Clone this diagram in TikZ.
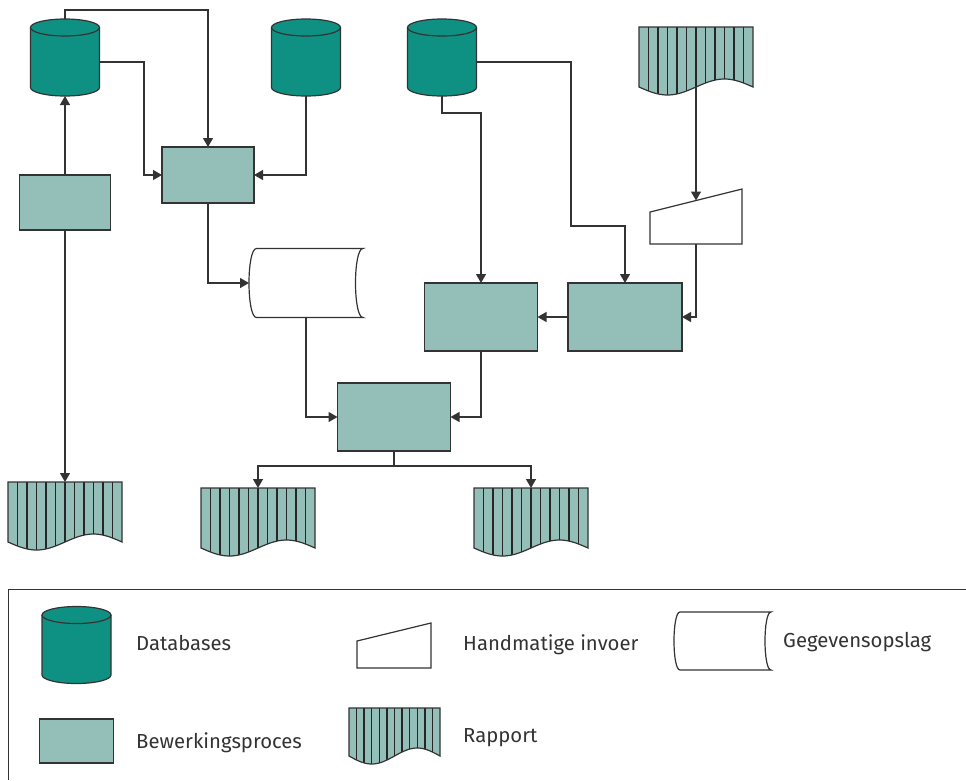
\documentclass[tikz,border=0pt]{standalone}
\usepackage{fontspec}
\setmainfont{Fira Sans}
\usetikzlibrary{arrows.meta,calc}
\definecolor{dbfill}{HTML}{0E9182}
\definecolor{procfill}{HTML}{93BFB8}
\definecolor{edgecol}{HTML}{333333}
\definecolor{txtcol}{HTML}{333333}
\tikzset{
  hbox/.style={rectangle, draw=none, inner sep=0pt, outer sep=0pt},
  outl/.style={draw=edgecol, line width=1.2pt, line join=miter},
  proc/.style={rectangle, draw=edgecol, fill=procfill, line width=1.2pt, inner sep=0pt, outer sep=0pt},
  conn/.style={draw=edgecol, line width=1.3pt, -{Triangle[length=9pt,width=10pt]}},
  stripe/.style={draw=black!85, line width=1.4pt},
  frame/.style={draw=edgecol, line width=1pt},
  legtext/.style={anchor=base west, inner sep=0pt, text=txtcol, font=\fontsize{20.3}{24}\selectfont},
}
% database cylinder: name, cx, cy
\newcommand\dbdraw[3]{%
  \node[hbox, minimum width=69pt, minimum height=77pt] (#1) at (#2,#3) {};
  \filldraw[outl, fill=dbfill] ([yshift=-8.5pt]#1.north west) -- ([yshift=8.5pt]#1.south west)
    arc[start angle=180, end angle=360, x radius=34.5pt, y radius=8.5pt]
    -- ([yshift=-8.5pt]#1.north east)
    arc[start angle=0, end angle=180, x radius=34.5pt, y radius=8.5pt] -- cycle;
  \draw[outl] ([yshift=-8.5pt]#1.north west) arc[start angle=180, end angle=360, x radius=34.5pt, y radius=8.5pt];
}
% manual input: name, cx, cy, w, h, slant
\newcommand\midraw[6]{%
  \node[hbox, minimum width=#4pt, minimum height=#5pt] (#1) at (#2,#3) {};
  \filldraw[outl, fill=white] (#1.south west) -- ([yshift=-#6pt]#1.north west) -- (#1.north east) -- (#1.south east) -- cycle;
}
% stored data: name, cx, cy, w, h, d, 4d/3, d/3
\newcommand\stdraw[8]{%
  \node[hbox, minimum width=#4pt, minimum height=#5pt] (#1) at (#2,#3) {};
  \filldraw[outl, fill=white] ([xshift=#6pt]#1.north west) -- (#1.north east)
    .. controls ([xshift=-#7pt]#1.north east) and ([xshift=-#7pt]#1.south east) .. (#1.south east)
    -- ([xshift=#6pt]#1.south west)
    .. controls ([xshift=-#8pt]#1.south west) and ([xshift=-#8pt]#1.north west) .. ([xshift=#6pt]#1.north west) -- cycle;
}
% report: name, x0, y0, w, h, a
\newcommand\rptdraw[6]{%
  \node[hbox, minimum width=#4pt, minimum height=#5pt] (#1) at ({#2+#4/2},{#3+#5/2}) {};
  \fill[procfill] (#2,#3) -- ({#2+#4},#3) -- ({#2+#4},{#3+#5})
    -- plot[domain=1:0, samples=41] ({#2+#4*\x},{#3+#5+#6*sin(360*\x)}) -- cycle;
  \foreach \k in {1,...,11} {\draw[stripe] ({#2+#4*\k/12},#3) -- ({#2+#4*\k/12},{#3+#5+#6*sin(30*\k)});}
  \draw[outl] (#2,#3) -- ({#2+#4},#3) -- ({#2+#4},{#3+#5})
    -- plot[domain=1:0, samples=41] ({#2+#4*\x},{#3+#5+#6*sin(360*\x)}) -- cycle;
}
\begin{document}
\begin{tikzpicture}[x=1pt,y=-1pt]
\useasboundingbox (0,0) rectangle (966,780);

% databases
\dbdraw{db1}{65}{57.5}
\dbdraw{db2}{306}{57.5}
\dbdraw{db3}{442}{57.5}

% processes
\node[proc, minimum width=91pt, minimum height=55pt] (p0) at (65,202.5) {};
\node[proc, minimum width=92pt, minimum height=56pt] (p1) at (208,175) {};
\node[proc, minimum width=113pt, minimum height=68pt] (p3) at (481,317) {};
\node[proc, minimum width=114pt, minimum height=68pt] (p4) at (625,317) {};
\node[proc, minimum width=113pt, minimum height=68pt] (p5) at (394,417) {};

% manual input, storage
\midraw{mi}{696}{216.5}{92}{55}{23}
\stdraw{st}{306}{283}{114}{69}{7.5}{10}{2.5}

% reports
\rptdraw{r0}{639}{27}{114}{60}{8}
\rptdraw{r1}{8}{482}{114}{60}{8}
\rptdraw{r2}{201}{488}{114}{60}{8}
\rptdraw{r3}{474}{488}{114}{60}{8}

\coordinate (mitop) at (696,200.5);
\coordinate (bend3) at (571,226);

% connectors
\draw[conn] (p0.north) -- (db1.south);
\draw[conn] (p0.south) -- (r1.north);
\draw[conn] (db1.north) -- ++(0,-9) -| (p1.north);
\draw[conn] ([yshift=-4.5pt]db1.east) -| ($(p1.west)+(-18,0)$) -- (p1.west);
\draw[conn] (db2.south) |- (p1.east);
\draw[conn] (p1.south) |- (st.west);
\draw[conn] (st.south) |- (p5.west);
\draw[conn] (db3.south) -- ++(0,17) -| (p3.north);
\draw[conn] ([yshift=-4.5pt]db3.east) -| (bend3) -| (p4.north);
\draw[conn] (r0.south) -- (mitop);
\draw[conn] (mi.south) |- (p4.east);
\draw[conn] (p4.west) -- (p3.east);
\draw[conn] (p3.south) |- (p5.east);
\draw[conn] (p5.south) -- ++(0,15) -| (r2.north);
\draw[conn] (p5.south) -- ++(0,15) -| (r3.north);

% legend
\draw[frame] (8,780) -- (8,589) -- (966,589);
\dbdraw{ldb}{76.5}{645}
\midraw{lmi}{394}{645.5}{74}{45}{18}
\stdraw{lst}{722.5}{641}{97}{58}{6}{8}{2}
\node[proc, minimum width=74pt, minimum height=44pt] (lp) at (76.4,741) {};
\rptdraw{lr}{349}{708}{91}{48}{8}

\node[legtext] (tdb) at (136,650.5) {Databases};
\node[legtext] (tmi) at (463,650.5) {Handmatige invoer};
\node[legtext] (tst) at (783,647) {Gegevensopslag};
\node[legtext] (tp) at (136,748) {Bewerkingsproces};
\node[legtext] (tr) at (463,742.5) {Rapport};
\end{tikzpicture}
\end{document}
